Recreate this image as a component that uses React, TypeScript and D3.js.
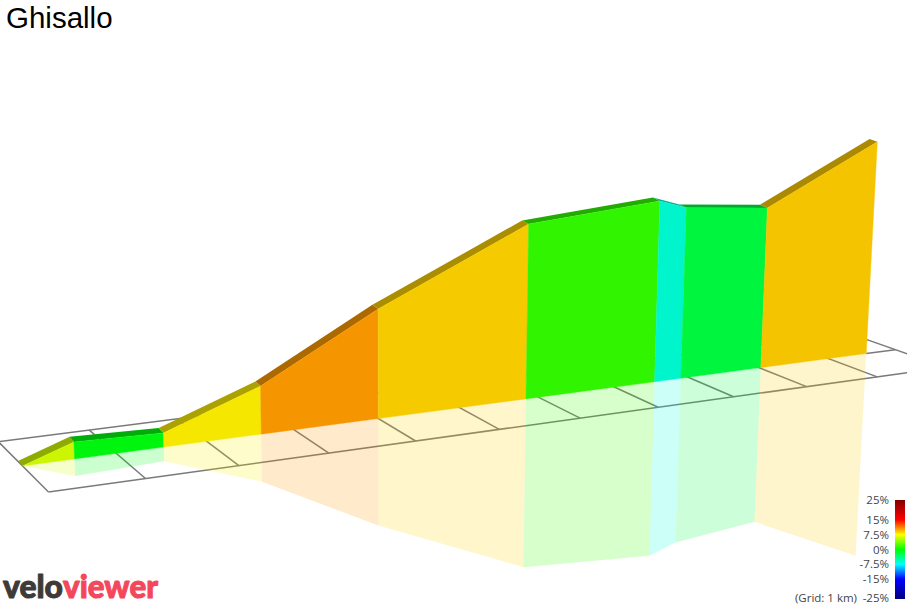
import * as d3 from "d3";

const WIDTH = 907;
const HEIGHT = 607;

// profile
const distanceKm = [0, 0.55, 1.52, 2.62, 4.0, 5.84, 7.54, 7.9, 9.02, 10.56];
const elevationM = [0, 39, 33, 113, 262, 427, 453, 430, 410, 553];
const segmentGrades = [6.2, -0.45, 7.9, 10.4, 8.8, 1.5, -6.25, -1.9, 9.0];

const gridKm = d3.range(0, 12);
const legendTicks = [25, 15, 7.5, 0, -7.5, -15, -25];
const legendLabels = ["25%", "15%", "7.5%", "0%", "-7.5%", "-15%", "-25%"];
const legendColors = ["#800000", "#ff0000", "#ffff00", "#00ff00", "#00ffff", "#0000ff", "#000080"];

const colorScale = d3.scaleLinear<string>().domain(legendTicks).range(legendColors).interpolate(d3.interpolateRgb);
const legendY = d3.scaleLinear().domain([25, -25]).range([500, 599]);

// perspective camera fitted to the grid: km along, grid fraction across, metres up
function project(km: number, across: number, metres: number): [number, number] {
  const w = 1 + 0.0193 * km + 0.0797 * across - 0.0000512 * metres;
  return [
    (99.8 * km - 50.2 * across - 0.0199 * metres + 48.5) / w,
    (-4.24 * km - 15 * across - 0.4834 * metres + 492) / w,
  ];
}

const line = d3.line();
const closed = (pts: [number, number][]) => line(pts) + "Z";

const RIBBON = 0.5;
const RIBBON_BACK = 0.58;
const BAND_LIFT = 3;

function shade(color: string, k: number) {
  const c = d3.rgb(color);
  return d3.rgb(c.r * k, c.g * k, c.b * k).formatHex();
}

function Segment({ i, kind }: { i: number; kind: "reflection" | "face" | "top" }) {
  const d0 = distanceKm[i];
  const d1 = distanceKm[i + 1];
  const e0 = elevationM[i];
  const e1 = elevationM[i + 1];
  const color = colorScale(segmentGrades[i]);
  if (kind === "reflection") {
    const path = closed([
      project(d0, RIBBON, 0),
      project(d1, RIBBON, 0),
      project(d1, RIBBON, -e1),
      project(d0, RIBBON, -e0),
    ]);
    return <path d={path} fill={color} fillOpacity={0.2} />;
  }
  if (kind === "face") {
    const path = closed([
      project(d0, RIBBON, 0),
      project(d1, RIBBON, 0),
      project(d1, RIBBON, e1),
      project(d0, RIBBON, e0),
    ]);
    const fill = shade(color, 0.96);
    return <path d={path} fill={fill} stroke={fill} strokeWidth={0.4} />;
  }
  const path = closed([
    project(d0, RIBBON, e0),
    project(d1, RIBBON, e1),
    project(d1, RIBBON_BACK, e1 + BAND_LIFT),
    project(d0, RIBBON_BACK, e0 + BAND_LIFT),
  ]);
  return <path d={path} fill={shade(color, 0.67)} />;
}

export default function App() {
  const segments = segmentGrades.map((_, i) => i);
  const lastKm = gridKm[gridKm.length - 1];
  const endKm = distanceKm[distanceKm.length - 1];

  return (
    <svg
      width={WIDTH}
      height={HEIGHT}
      viewBox={`0 0 ${WIDTH} ${HEIGHT}`}
      style={{ position: "absolute", left: 0, top: 0, background: "#fff" }}
    >
      <defs>
        <linearGradient id="legend" x1="0" y1="0" x2="0" y2="1">
          {legendTicks.map((t, i) => (
            <stop key={t} offset={(25 - t) / 50} stopColor={legendColors[i]} />
          ))}
        </linearGradient>
      </defs>

      {/* Grid */}
      <g stroke="#7a7a7a" strokeWidth={1.5} fill="none">
        {gridKm.map((km) => (
          <path key={km} d={line([project(km, 0, 0), project(km, 1, 0)]) ?? ""} />
        ))}
        <path d={line([project(0, 0, 0), project(lastKm, 0, 0)]) ?? ""} />
        <path d={line([project(0, 1, 0), project(lastKm, 1, 0)]) ?? ""} />
        <path d={line([project(endKm, RIBBON, 0), project(lastKm, RIBBON, 0)]) ?? ""} />
      </g>

      {/* Reflection, faces, top band */}
      {segments.map((i) => <Segment key={i} i={i} kind="reflection" />)}
      {segments.map((i) => <Segment key={i} i={i} kind="top" />)}
      {segments.map((i) => <Segment key={i} i={i} kind="face" />)}

      <text x={6} y={28} fontFamily="Liberation Sans" fontSize={29.5} fill="#000">Ghisallo</text>

      {/* Legend */}
      <rect x={895} y={legendY(25)} width={10} height={legendY(-25) - legendY(25)} fill="url(#legend)" />
      <g fontFamily="Open Sans" fontSize={11.5} fill="#444" textAnchor="end">
        {legendTicks.map((t, i) => (
          <text key={t} x={889} y={Math.min(legendY(t), 598) + 4}>{legendLabels[i]}</text>
        ))}
        <text x={857} y={602}>(Grid: 1 km)</text>
      </g>

      {/* Logo */}
      <text y={598} fontFamily="Lato" fontWeight={900} fontSize={33} strokeWidth={1} strokeLinejoin="round">
        <tspan x={3} fill="#3d3a38" stroke="#3d3a38" textLength={60} lengthAdjust="spacingAndGlyphs">velo</tspan>
        <tspan x={63} fill="#f4475b" stroke="#f4475b" textLength={95} lengthAdjust="spacingAndGlyphs">viewer</tspan>
      </text>
    </svg>
  );
}
